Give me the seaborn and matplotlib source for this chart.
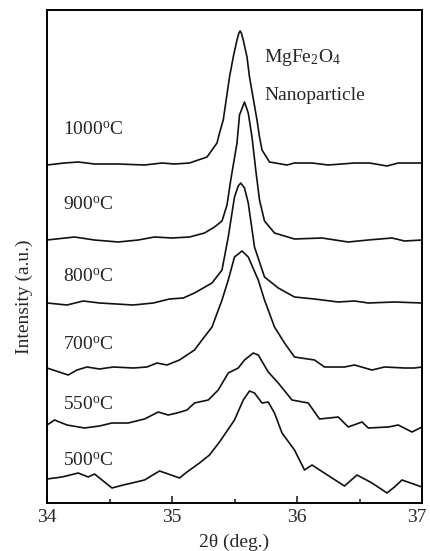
import numpy as np
import pandas as pd
import seaborn as sns
import matplotlib.pyplot as plt
from matplotlib.transforms import ScaledTranslation

# XRD patterns around the (311) reflection, stacked traces (a.u.)
x_1000 = [34.00, 34.14, 34.25, 34.38, 34.57, 34.78, 34.92, 35.02, 35.14, 35.28, 35.36, 35.38,
          35.41, 35.46, 35.49, 35.52, 35.535, 35.545, 35.555, 35.57, 35.60, 35.62, 35.68, 35.70,
          35.72, 35.78, 35.92, 35.98, 36.12, 36.25, 36.46, 36.58, 36.72, 36.81, 37.00]
y_1000 = [338, 340, 341, 339, 339, 338, 340, 339, 340, 346, 360, 370,
          383, 426, 446, 463, 470, 472, 470, 463, 446, 426, 383, 366,
          353, 341, 338, 340, 340, 338, 340, 340, 337, 340, 340]

x_900 = [34.00, 34.22, 34.38, 34.57, 34.73, 34.86, 35.00, 35.14, 35.26, 35.34, 35.40, 35.44,
         35.47, 35.52, 35.54, 35.58, 35.61, 35.64, 35.67, 35.70, 35.74, 35.82, 35.98, 36.20,
         36.41, 36.57, 36.76, 36.86, 37.00]
y_900 = [263, 266, 263, 261, 263, 266, 265, 266, 270, 276, 282, 298,
         323, 360, 388, 401, 390, 366, 333, 303, 282, 270, 264, 265,
         261, 263, 265, 262, 263]

x_800 = [34.00, 34.16, 34.29, 34.42, 34.69, 34.85, 34.98, 35.09, 35.18, 35.32, 35.40, 35.45,
         35.50, 35.53, 35.55, 35.58, 35.61, 35.66, 35.74, 35.85, 35.98, 36.14, 36.33, 36.46,
         36.57, 36.78, 37.00]
y_800 = [200, 198, 202, 200, 198, 200, 204, 205, 210, 220, 233, 266,
         306, 317, 320, 315, 300, 256, 226, 215, 206, 204, 201, 202,
         200, 201, 200]

x_700 = [34.00, 34.17, 34.24, 34.32, 34.42, 34.53, 34.69, 34.80, 34.88, 34.96, 35.06, 35.18,
         35.24, 35.32, 35.40, 35.45, 35.50, 35.56, 35.61, 35.69, 35.74, 35.82, 35.90, 35.98,
         36.14, 36.22, 36.38, 36.46, 36.60, 36.70, 36.86, 36.94, 37.00]
y_700 = [135, 128, 133, 136, 134, 136, 135, 136, 140, 138, 143, 153,
         163, 176, 203, 223, 246, 252, 246, 223, 203, 176, 160, 146,
         143, 136, 136, 138, 133, 136, 135, 135, 136]

x_550 = [34.00, 34.06, 34.16, 34.30, 34.42, 34.52, 34.65, 34.78, 34.89, 34.97, 35.04, 35.12,
         35.18, 35.29, 35.37, 35.45, 35.53, 35.58, 35.65, 35.69, 35.77, 35.85, 35.96, 36.09,
         36.18, 36.33, 36.41, 36.52, 36.57, 36.73, 36.81, 36.92, 37.00]
y_550 = [78, 83, 78, 75, 77, 80, 80, 84, 91, 88, 90, 93,
         100, 103, 113, 130, 135, 143, 150, 148, 131, 120, 103, 100,
         84, 86, 76, 81, 75, 76, 78, 71, 76]

x_500 = [34.00, 34.12, 34.25, 34.33, 34.38, 34.46, 34.52, 34.61, 34.68, 34.78, 34.90, 34.97,
         35.06, 35.12, 35.22, 35.30, 35.38, 35.50, 35.57, 35.62, 35.66, 35.72, 35.77, 35.82,
         35.88, 35.98, 36.06, 36.12, 36.28, 36.38, 36.48, 36.60, 36.72, 36.78, 36.84, 37.00]
y_500 = [24, 26, 30, 26, 29, 21, 15, 18, 20, 23, 32, 29,
         25, 31, 40, 48, 61, 83, 103, 112, 110, 100, 101, 90,
         70, 53, 33, 38, 25, 17, 28, 20, 10, 16, 23, 16]

temps = ["1000", "900", "800", "700", "550", "500"]
xs = [x_1000, x_900, x_800, x_700, x_550, x_500]
ys = [y_1000, y_900, y_800, y_700, y_550, y_500]
label_y = [373, 298, 226, 158, 98, 42]

df = pd.concat([pd.DataFrame({"two_theta": x, "intensity": y, "temp": t})
                for t, x, y in zip(temps, xs, ys)], ignore_index=True)

sns.set_style("white")
plt.rcParams["font.family"] = ["Liberation Serif", "DejaVu Serif"]
plt.rcParams["mathtext.fontset"] = "custom"
plt.rcParams["mathtext.rm"] = "Liberation Serif"
plt.rcParams["mathtext.it"] = "Liberation Serif:italic"

fig = plt.figure(figsize=(4.3, 5.51), dpi=100)
ax = fig.add_axes([47 / 430, 48 / 551, 375 / 430, 493 / 551])

sns.lineplot(data=df, x="two_theta", y="intensity", hue="temp",
             palette=["#111111"] * len(temps), estimator=None, sort=False,
             legend=False, linewidth=1.2, ax=ax)

for t, ly in zip(temps, label_y):
    ax.text(34.13, ly, t + r"$^{\mathrm{o}}$C", fontsize=14, va="center", ha="left")

ax.text(35.74, 446, r"MgFe$_2$O$_4$", fontsize=14, va="center", ha="left")
ax.text(35.74, 408, "Nanoparticle", fontsize=14, va="center", ha="left")

ax.set_xlim(34, 37)
ax.set_ylim(0, 493)
ax.set_xticks([34, 35, 36, 37])
ax.set_xticks([34.5, 35.5, 36.5], minor=True)
ax.set_yticks([])
ax.tick_params(axis="x", which="major", direction="in", length=5, width=1.2,
               labelsize=14, pad=4, bottom=True)
ax.tick_params(axis="x", which="minor", direction="in", length=3, width=1.2, bottom=True)

# keep the last tick label inside the figure, as in the original
last = ax.xaxis.get_major_ticks()[-1].label1
last.set_transform(last.get_transform() + ScaledTranslation(-4 / 72, 0, fig.dpi_scale_trans))

ax.set_xlabel("2θ (deg.)", fontsize=14)
ax.set_ylabel("Intensity (a.u.)", fontsize=14)
ax.xaxis.set_label_coords(0.5, -0.062)
ax.yaxis.set_label_coords(-0.037, 0.418)

for s in ax.spines.values():
    s.set_visible(True)
    s.set_color("black")
    s.set_linewidth(1.4)

fig.savefig("out.png", dpi=100)
